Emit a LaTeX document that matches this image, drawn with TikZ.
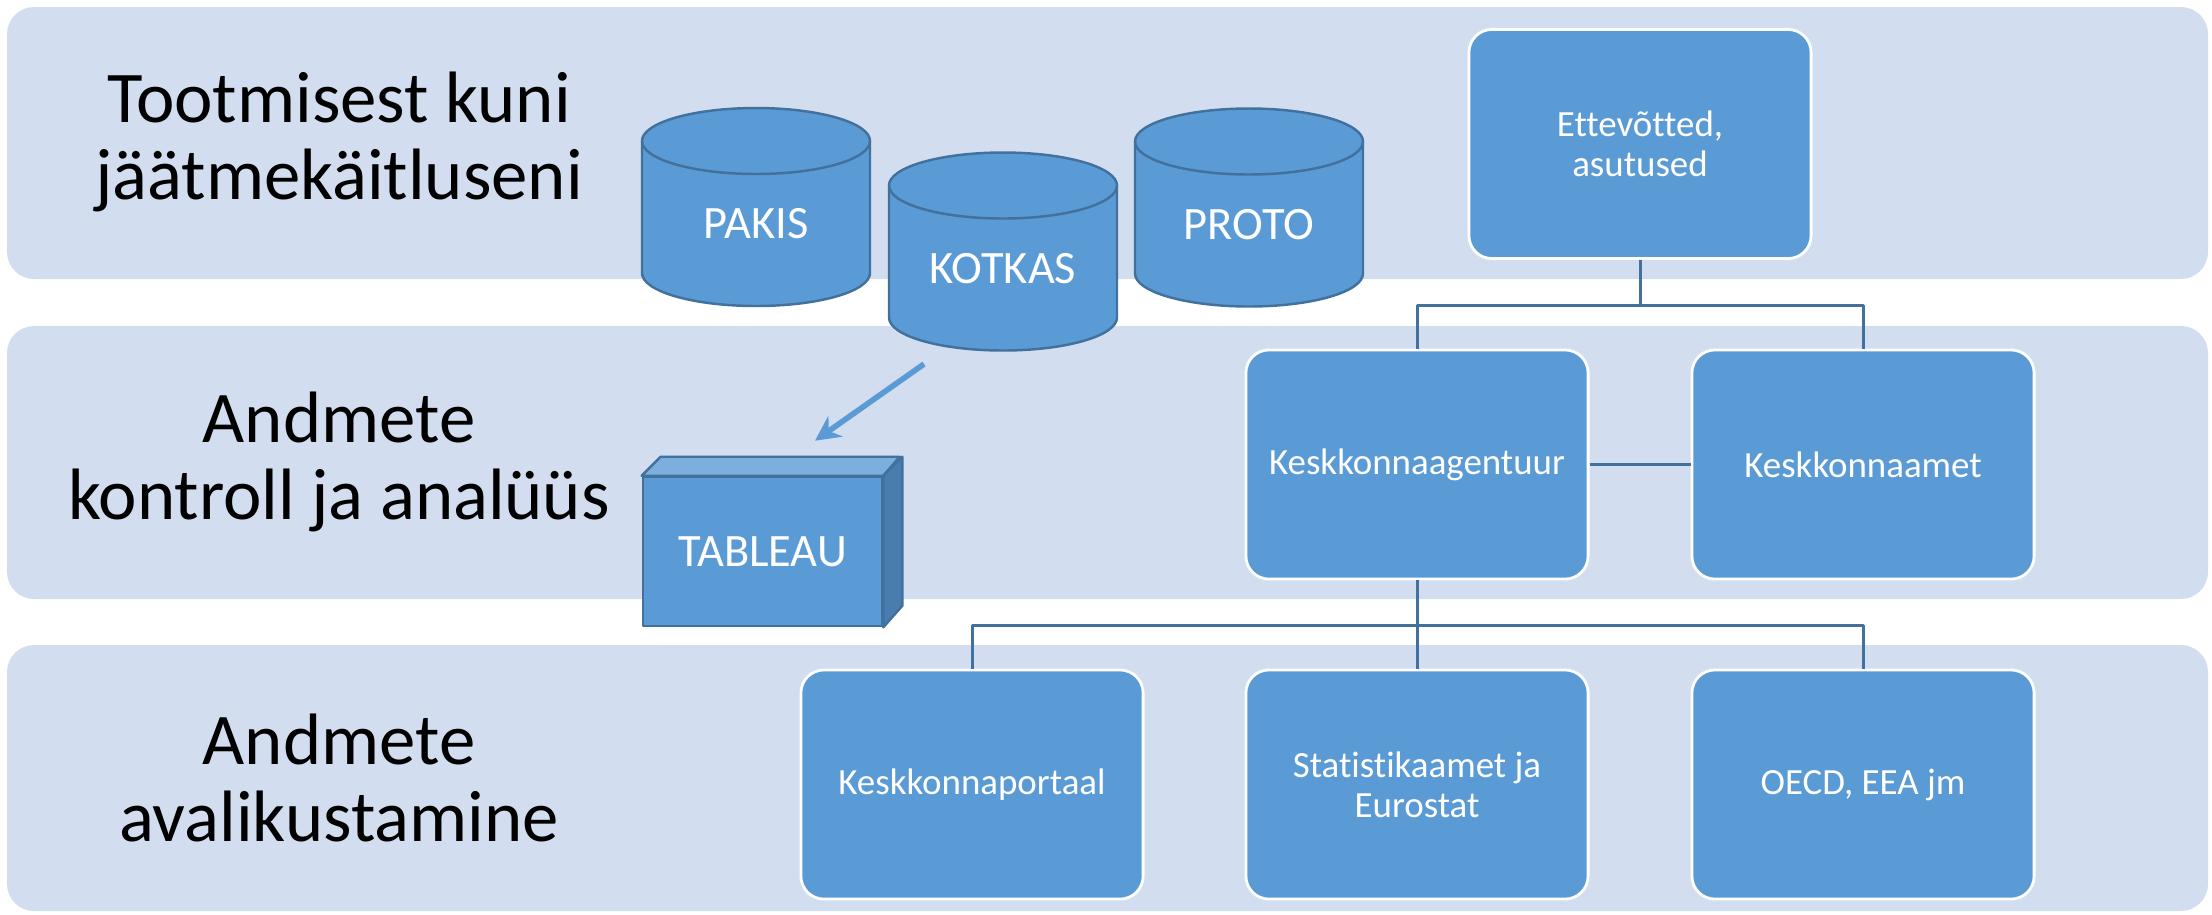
\documentclass[tikz,border=0pt]{standalone}
\usepackage{fontspec}
\setmainfont[Ligatures=NoCommon]{Carlito}
\usepackage{tikz}
\usetikzlibrary{arrows.meta,calc}

\definecolor{bandbg}{RGB}{210,222,239}
\definecolor{boxblue}{RGB}{91,155,213}
\definecolor{boxedge}{RGB}{65,113,156}
\definecolor{boxtop}{RGB}{125,175,222}
\definecolor{boxside}{RGB}{72,125,174}

\tikzstyle{band} = [fill=bandbg, rounded corners=0.27cm]
\tikzstyle{title} = [align=center, font=\fontsize{20.7}{22.1}\selectfont]
\tikzstyle{orgbox} = [draw=white, line width=0.8pt, fill=boxblue, rounded corners=0.23cm,
  minimum width=3.42cm, minimum height=2.29cm, align=center, text=white,
  font=\fontsize{10.5}{11.3}\selectfont]
\tikzstyle{orgline} = [draw=boxedge, line width=0.85pt]
\tikzstyle{cylfill} = [fill=boxblue, draw=boxedge, line width=0.7pt]
\tikzstyle{cyltext} = [text=white, font=\fontsize{13.2}{15}\selectfont]
\tikzstyle{flowarrow} = [draw=boxblue, line width=1.6pt, -{Stealth[length=0.25cm, width=0.25cm]}]

% name, x, y, label
\newcommand{\dbcyl}[4]{%
  \coordinate (#1) at (#2,-#3);
  \filldraw[cylfill] ($(#1)+(-114,66)$) -- ($(#1)+(-114,-66)$)
    arc[start angle=180, end angle=360, x radius=114, y radius=33]
    -- ($(#1)+(114,66)$)
    arc[start angle=0, end angle=180, x radius=114, y radius=33] -- cycle;
  \draw[cylfill, fill=none] ($(#1)+(-114,66)$)
    arc[start angle=180, end angle=360, x radius=114, y radius=33];
  \node[cyltext] (#1-label) at ($(#1)+(0,-17)$) {#4};
}

\begin{document}
\begin{tikzpicture}[x=0.01cm, y=0.01cm, line join=round]
  \useasboundingbox (0,0) rectangle (2212,-914);

  % three rows
  \fill[band] (7,-7) rectangle (2208,-279);
  \fill[band] (7,-326) rectangle (2208,-599);
  \fill[band] (7,-645) rectangle (2208,-911);

  \node[title] (prod) at (339,-142) {Tootmisest kuni\\jäätmekäitluseni};
  \node[title] (ctrl) at (339,-462) {Andmete\\kontroll ja analüüs};
  \node[title] (pub) at (339,-778) {Andmete\\avalikustamine};

  % databases
  \dbcyl{pakis}{756}{207}{PAKIS}
  \dbcyl{proto}{1249}{207.5}{PROTO}
  \dbcyl{kotkas}{1003}{251.5}{KOTKAS}

  % tableau block
  \node[draw=boxedge, fill=boxblue, line width=0.7pt, minimum width=2.39cm, minimum height=1.49cm,
    text=white, font=\fontsize{13.2}{15}\selectfont] (tableau) at (762.5,-551.5) {TABLEAU};
  \filldraw[fill=boxtop, draw=boxedge, line width=0.7pt] (tableau.north west) -- ++(19,19)
    -- ++(239,0) -- (tableau.north east) -- cycle;
  \filldraw[fill=boxside, draw=boxedge, line width=0.7pt] (tableau.north east) -- ++(19,19)
    -- ++(0,-149) -- (tableau.south east) -- cycle;

  \draw[flowarrow] ($(kotkas)+(-79,-112.5)$) -- ($(tableau.north)+(52.5,35)$);

  % organisations
  \node[orgbox] (ettev) at (1640,-144) {Ettevõtted,\\asutused};
  \node[orgbox] (agentuur) at (1417,-464.5) {Keskkonnaagentuur};
  \node[orgbox] (amet) at (1863,-464.5) {Keskkonnaamet};
  \node[orgbox] (portaal) at (972,-784.5) {Keskkonnaportaal};
  \node[orgbox] (statistika) at (1417,-784.5) {Statistikaamet ja\\Eurostat};
  \node[orgbox] (oecd) at (1863,-784.5) {OECD, EEA jm};

  \draw[orgline] (ettev.south) -- ++(0,-46) -| (agentuur.north);
  \draw[orgline] (ettev.south) -- ++(0,-46) -| (amet.north);
  \draw[orgline] (agentuur.east) -- (amet.west);
  \draw[orgline] (agentuur.south) -- ++(0,-45) -| (portaal.north);
  \draw[orgline] (agentuur.south) -- ++(0,-45) -| (oecd.north);
  \draw[orgline] (agentuur.south) -- (statistika.north);
\end{tikzpicture}
\end{document}
